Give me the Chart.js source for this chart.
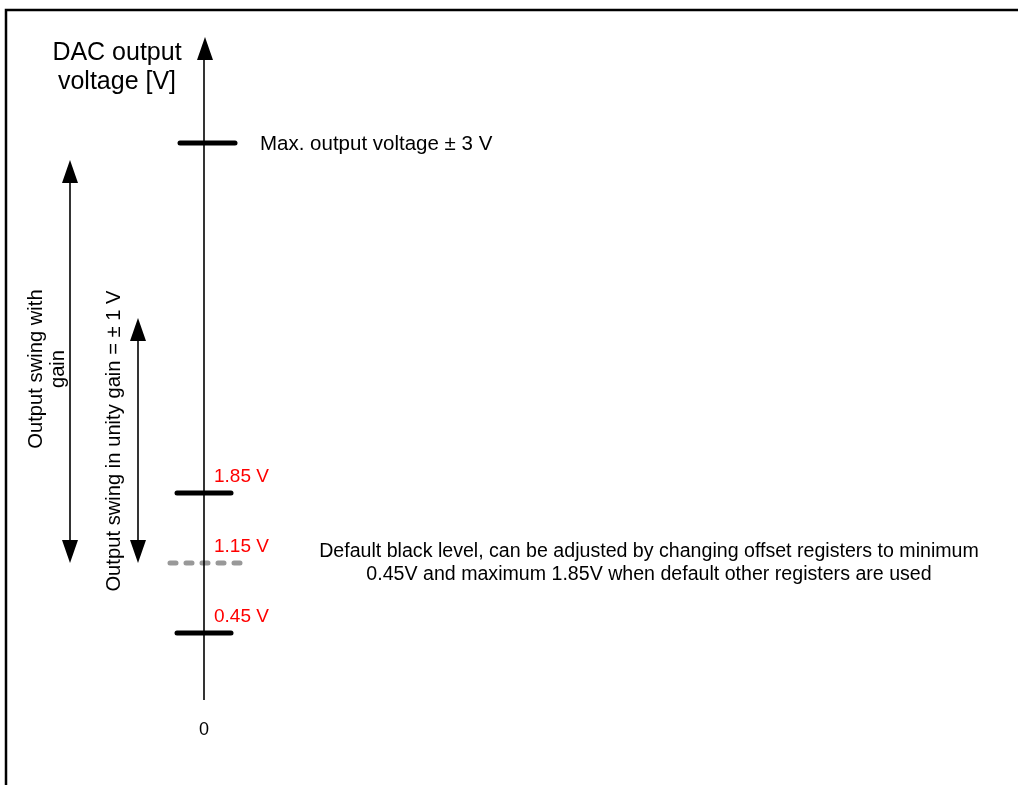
<!DOCTYPE html>
<html lang="en">
<head>
  <meta charset="UTF-8" />
  <title>DAC output voltage</title>
  <script src="https://cdn.jsdelivr.net/npm/chart.js"></script>
  <style>
    html, body { margin: 0; padding: 0; background: #fff; }
    #wrap { width: 1018px; height: 785px; position: relative; }
  </style>
</head>
<body>
  <div id="wrap"><canvas id="dacChart"></canvas></div>

  <script>
    // voltage levels on the axis
    const levelValues = [0.45, 1.15, 1.85];
    const levelLabels = ['0.45 V', '1.15 V', '1.85 V'];
    const defaultLevel = 1.15;          // dashed grey mark
    const maxLevelPos = 5.35;           // schematic spot of the max voltage mark
    const maxLabel = 'Max. output voltage \u00b1 3 V';
    const axisRange = [-0.22, 6.41];    // axis line, bottom to arrow tip
    const gainSwing = [1.15, 5.18];     // "Output swing with gain"
    const unitySwing = [1.15, 3.60];    // "Output swing in unity gain"
    const zeroLabel = '0';
    const titleLines = ['DAC output', 'voltage [V]'];
    const gainLines = ['Output swing with', 'gain'];
    const unityLabel = 'Output swing in unity gain = \u00b1 1 V';
    const noteLines = [
      'Default black level, can be adjusted by changing offset registers to minimum',
      '0.45V and maximum 1.85V when default other registers are used'
    ];

    const FONT = '"Liberation Sans", Arial, sans-serif';
    const axisX = 204, gainX = 70, unityX = 138;

    function seg(x1, x2, y1, y2) {
      return [{ x: x1, y: y1 }, { x: x2, y: y2 }];
    }

    const tickSets = levelValues
      .filter(v => v !== defaultLevel)
      .map(v => ({
        data: seg(177, 231, v, v),
        borderColor: '#000', borderWidth: 5, borderCapStyle: 'round'
      }));

    const datasets = [
      { data: seg(axisX, axisX, axisRange[0], axisRange[1] - 0.1), borderColor: '#000', borderWidth: 1.6 },
      { data: seg(180, 235, maxLevelPos, maxLevelPos), borderColor: '#000', borderWidth: 5, borderCapStyle: 'round' },
      ...tickSets,
      { data: seg(170, 240, defaultLevel, defaultLevel), borderColor: '#999', borderWidth: 5,
        borderCapStyle: 'round', borderDash: [6, 10] },
      { data: seg(gainX, gainX, gainSwing[0] + 0.1, gainSwing[1] - 0.1), borderColor: '#000', borderWidth: 1.6 },
      { data: seg(unityX, unityX, unitySwing[0] + 0.1, unitySwing[1] - 0.1), borderColor: '#000', borderWidth: 1.6 }
    ].map(d => Object.assign({ showLine: true, pointRadius: 0, fill: false }, d));

    function arrowHead(ctx, x, yTip, dir) {
      // dir = -1 points up, +1 points down
      ctx.beginPath();
      ctx.moveTo(x, yTip);
      ctx.lineTo(x - 8, yTip - dir * 23);
      ctx.lineTo(x + 8, yTip - dir * 23);
      ctx.closePath();
      ctx.fill();
    }

    const decor = {
      id: 'decor',
      beforeDraw(chart) {
        const ctx = chart.ctx;
        ctx.save();
        ctx.fillStyle = '#fff';
        ctx.fillRect(0, 0, chart.width, chart.height);
        ctx.strokeStyle = '#000';
        ctx.lineWidth = 2.5;
        ctx.beginPath();
        ctx.moveTo(6, chart.height);
        ctx.lineTo(6, 10);
        ctx.lineTo(chart.width, 10);
        ctx.stroke();
        ctx.restore();
      },
      afterDatasetsDraw(chart) {
        const ctx = chart.ctx;
        const y = chart.scales.y;
        ctx.save();
        ctx.fillStyle = '#000';

        // arrow heads
        arrowHead(ctx, axisX + 1, y.getPixelForValue(axisRange[1]), -1);
        arrowHead(ctx, gainX, y.getPixelForValue(gainSwing[1]), -1);
        arrowHead(ctx, gainX, y.getPixelForValue(gainSwing[0]), 1);
        arrowHead(ctx, unityX, y.getPixelForValue(unitySwing[1]), -1);
        arrowHead(ctx, unityX, y.getPixelForValue(unitySwing[0]), 1);

        // axis title
        ctx.font = '25px ' + FONT;
        ctx.textAlign = 'center';
        ctx.textBaseline = 'alphabetic';
        ctx.fillText(titleLines[0], 117, 60);
        ctx.fillText(titleLines[1], 117, 89);

        // max label
        ctx.font = '20.5px ' + FONT;
        ctx.textAlign = 'left';
        ctx.fillText(maxLabel, 260, y.getPixelForValue(maxLevelPos) + 7);

        // red level labels
        ctx.font = '19px ' + FONT;
        ctx.fillStyle = '#ff0000';
        levelValues.forEach((v, i) => {
          ctx.fillText(levelLabels[i], 214, y.getPixelForValue(v) - 11);
        });

        // zero
        ctx.fillStyle = '#000';
        ctx.font = '18px ' + FONT;
        ctx.textAlign = 'center';
        ctx.fillText(zeroLabel, axisX, 735);

        // note text
        ctx.font = '19.6px ' + FONT;
        ctx.fillText(noteLines[0], 649, 557);
        ctx.fillText(noteLines[1], 649, 580);

        // rotated labels
        ctx.font = '20.2px ' + FONT;
        ctx.textBaseline = 'middle';
        ctx.save();
        ctx.translate(47, 369);
        ctx.rotate(-Math.PI / 2);
        ctx.fillText(gainLines[0], 0, -11);
        ctx.fillText(gainLines[1], 0, 11);
        ctx.restore();

        ctx.save();
        ctx.translate(114, 441);
        ctx.rotate(-Math.PI / 2);
        ctx.fillText(unityLabel, 0, 0);
        ctx.restore();

        ctx.restore();
      }
    };

    new Chart(document.getElementById('dacChart'), {
      type: 'scatter',
      data: { datasets },
      options: {
        responsive: true,
        maintainAspectRatio: false,
        animation: false,
        layout: { padding: 0 },
        plugins: { legend: { display: false }, tooltip: { enabled: false } },
        scales: {
          x: { type: 'linear', min: 0, max: 1018, display: false },
          y: { type: 'linear', min: -1.07, max: 6.78, display: false }
        }
      },
      plugins: [decor]
    });
  </script>
</body>
</html>
